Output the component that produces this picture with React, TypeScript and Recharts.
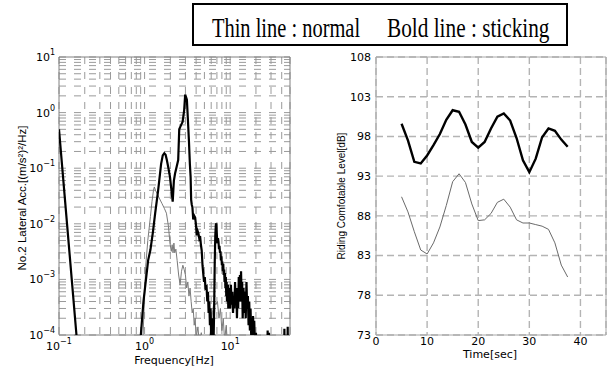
import React from "react";
import { LineChart, Line, XAxis, YAxis, CartesianGrid, ReferenceArea } from "recharts";

// left panel: lateral acceleration PSD (log-log)
const boldFreq = [
  0.1, 0.16, 0.2, 0.5, 0.85,
  0.97, 1.1, 1.17, 1.25, 1.33, 1.44, 1.56, 1.63, 1.7, 1.76,
  1.82, 1.9, 1.98, 2.06, 2.13, 2.2, 2.27, 2.38, 2.47, 2.54,
  2.62, 2.7, 2.78, 2.9, 2.98, 3.05, 3.12, 3.2, 3.3, 3.38,
  3.45, 3.5, 3.56, 3.62, 3.7, 3.8, 3.9, 4.0, 4.06, 4.15,
  4.25, 4.35, 4.45, 4.55, 4.65, 4.75, 4.84, 4.95, 5.05, 5.15,
  5.3, 5.4, 5.5, 5.6, 5.7, 5.8, 5.9, 6.0, 6.1, 6.2,
  6.3, 6.4, 6.5, 6.6, 6.7, 6.8, 6.9, 7.0, 7.1, 7.2,
  7.3, 7.4, 7.5, 7.6, 7.7, 7.8, 7.9, 8.0, 8.1, 8.2,
  8.3, 8.4, 8.5, 8.6, 8.7, 8.8, 8.9, 9.0, 9.1, 9.2,
  9.4, 9.5, 9.6, 9.8, 9.9, 10.0, 10.2, 10.4, 10.6, 10.8,
  11.0, 11.2, 11.4, 11.6, 11.8, 12.0, 12.2, 12.4, 12.6, 12.8,
  13.0, 13.2, 13.4, 13.6, 13.8, 14.0, 14.3, 14.6, 14.9, 15.2,
  15.5, 15.8, 16.1, 16.4, 16.7, 17.0, 17.3, 17.6, 17.9, 18.2,
  18.5, 18.8, 19.1, 19.5, 20.0, 20.5, 22.0, 25.0, 27.0, 27.4,
  27.8, 28.4, 28.8, 29.2, 33.0, 38.0, 42.5, 43.0, 43.5, 46.5,
  47.0, 47.5, 50.0,
];
const boldPsd = [
  0.5, 0.0001, 0.000003, 0.0000001, 0.00003,
  0.0004, 0.0022, 0.0034, 0.007, 0.0155, 0.04, 0.12, 0.17, 0.186, 0.175,
  0.14, 0.1, 0.07, 0.04, 0.025, 0.06, 0.08, 0.11, 0.14, 0.5,
  0.56, 0.62, 0.68, 1.1, 2.1, 1.9, 1.7, 0.8, 0.3, 0.12,
  0.07, 0.027, 0.022, 0.02, 0.012, 0.014, 0.013, 0.009, 0.0062, 0.0075,
  0.0068, 0.0055, 0.006, 0.0042, 0.0033, 0.0018, 0.0013, 0.0009, 0.0011, 0.0007,
  0.00074, 0.0004, 0.0006, 0.00025, 0.0004, 0.00015, 0.0003, 0.00009, 0.0002, 0.00006,
  0.00012, 0.00008, 0.0003, 0.002, 0.006, 0.0095, 0.0102, 0.006, 0.0045, 0.0055,
  0.0048, 0.0035, 0.004, 0.003, 0.0032, 0.0022, 0.0026, 0.0018, 0.0021, 0.0014,
  0.0019, 0.0012, 0.0015, 0.0009, 0.0013, 0.0007, 0.0011, 0.0005, 0.0009, 0.0004,
  0.0008, 0.0003, 0.0007, 0.0004, 0.0006, 0.0003, 0.0008, 0.00035, 0.0006, 0.00025,
  0.0005, 0.0003, 0.0009, 0.0004, 0.0007, 0.0002, 0.0006, 0.0003, 0.0011, 0.0004,
  0.0012, 0.0005, 0.0014, 0.0004, 0.0009, 0.0002, 0.0007, 0.00025, 0.0006, 0.0002,
  0.0009, 0.0003, 0.0005, 0.00015, 0.0004, 0.00012, 0.0003, 0.0001, 0.0002, 0.00008,
  0.00022, 0.00009, 0.00018, 0.00006, 0.00011, 0.00003, 0.00001, 0.00001, 0.00002, 0.00012,
  0.00003, 0.00011, 0.00002, 0.00001, 0.00001, 0.00001, 0.00002, 0.00013, 0.00002, 0.00002,
  0.00014, 0.00002, 0.00001,
];
const thinFreq = [
  0.85, 0.96, 1.03, 1.09, 1.17, 1.22, 1.27, 1.3, 1.34, 1.4,
  1.5, 1.6, 1.7, 1.8, 1.9, 1.98, 2.05, 2.1, 2.15, 2.2,
  2.25, 2.32, 2.4, 2.5, 2.6, 2.7, 2.8, 2.9, 3.0, 3.1,
  3.2, 3.3, 3.4, 3.5, 3.6, 3.7, 3.8, 3.9, 4.0, 4.2,
  4.4, 4.6, 4.8, 5.0, 5.3, 5.6, 5.9, 6.2, 6.5, 6.8,
  7.1, 7.4, 7.7, 8.0, 8.3, 8.6, 9.0, 9.4, 9.8, 10.3,
  11.0, 12.0, 14.0, 18.0, 25.0, 50.0,
];
const thinPsd = [
  0.00001, 0.0001, 0.0017, 0.005, 0.0135, 0.025, 0.04, 0.046, 0.04, 0.035,
  0.028, 0.023, 0.019, 0.0155, 0.009, 0.0045, 0.0032, 0.0042, 0.003, 0.0045,
  0.003, 0.0035, 0.0022, 0.0012, 0.0008, 0.0014, 0.0018, 0.0015, 0.0012, 0.0007,
  0.0009, 0.0005, 0.0007, 0.0004, 0.00025, 0.0003, 0.00015, 0.0002, 0.00009, 0.00014,
  0.00006, 0.00011, 0.00004, 0.00008, 0.00003, 0.00007, 0.00012, 0.00025, 0.0004, 0.00035,
  0.0004, 0.0002, 0.0003, 0.00012, 0.0002, 0.00008, 0.00015, 0.00005, 0.0001, 0.00003,
  0.00006, 0.00002, 0.00001, 0.000005, 0.000003, 0.000002,
];
const freqTicks = [
  0.1, 0.2, 0.3, 0.4, 0.5, 0.6, 0.7, 0.8, 0.9,
  1, 2, 3, 4, 5, 6, 7, 8, 9,
  10, 20, 30, 40, 50,
];
const psdTicks = [
  0.0001, 0.0002, 0.0003, 0.0004, 0.0005, 0.0006, 0.0007, 0.0008, 0.0009,
  0.001, 0.002, 0.003, 0.004, 0.005, 0.006, 0.007, 0.008, 0.009,
  0.01, 0.02, 0.03, 0.04, 0.05, 0.06, 0.07, 0.08, 0.09,
  0.1, 0.2, 0.3, 0.4, 0.5, 0.6, 0.7, 0.8, 0.9,
  1, 2, 3, 4, 5, 6, 7, 8, 9, 10,
];

// right panel: riding comfort level over time
const times = [
  5, 6.25, 7.5, 8.75, 10, 11.25, 12.5, 13.75, 15, 16.25,
  17.5, 18.75, 20, 21.25, 22.5, 23.75, 25, 26.25, 27.5, 28.75,
  30, 31.25, 32.5, 33.75, 35, 36.25, 37.5,
];
const comfortBold = [
  99.6, 97.5, 94.8, 94.6, 95.6, 96.9, 98.3, 100.1, 101.3, 101.1,
  99.5, 97.3, 96.6, 97.3, 99.0, 100.5, 100.9, 100.0, 97.8, 95.0,
  93.5, 95.2, 97.9, 99.0, 98.7, 97.6, 96.7,
];
const comfortThin = [
  90.4, 88.5, 86.0, 83.7, 83.2, 84.6, 86.6, 89.3, 92.3, 93.3,
  92.2, 89.5, 87.4, 87.5, 88.3, 89.7, 90.1, 89.1, 87.5, 87.1,
  87.1, 86.9, 86.7, 86.3, 84.6, 81.8, 80.3,
];
const timeTicks = [0, 10, 20, 30, 40];
const levelTicks = [73, 78, 83, 88, 93, 98, 103, 108];

const boldRows = boldFreq.map((f, i) => ({ f, v: boldPsd[i] }));
const thinRows = thinFreq.map((f, i) => ({ f, v: thinPsd[i] }));
const comfortRows = times.map((t, i) => ({ t, bold: comfortBold[i], thin: comfortThin[i] }));

const SANS = "DejaVu Sans, sans-serif";

const isDecade = (v: number) => Math.abs(Math.log10(v) - Math.round(Math.log10(v))) < 1e-6;
const expText = (v: number) => {
  const e = Math.round(Math.log10(v));
  return e < 0 ? "\u2212" + -e : String(e);
};

function FreqTick(props: any) {
  const { x, y, payload } = props;
  if (!isDecade(payload.value)) return <g />;
  return (
    <text x={x} y={y + 15} textAnchor="middle" fontFamily={SANS} fontSize={11} fill="#000">
      10<tspan dy={-6} fontSize={8}>{expText(payload.value)}</tspan>
    </text>
  );
}

function PsdTick(props: any) {
  const { x, y, payload } = props;
  if (!isDecade(payload.value)) return <g />;
  return (
    <text x={x - 4} y={y + 4} textAnchor="end" fontFamily={SANS} fontSize={11} fill="#000">
      10<tspan dy={-6} fontSize={8}>{expText(payload.value)}</tspan>
    </text>
  );
}

export default function App() {
  return (
    <div style={{ position: "absolute", left: 0, top: 0, width: 612, height: 369, background: "#fff", overflow: "hidden" }}>
      {/* Left: spectrum */}
      <div style={{ position: "absolute", left: 0, top: 0 }}>
        <LineChart width={300} height={369} margin={{ top: 57, right: 10, bottom: 0, left: 9 }}>
          <CartesianGrid stroke="#9a9a9a" strokeDasharray="7 8" />
          <XAxis
            dataKey="f"
            type="number"
            scale="log"
            domain={[0.1, 50]}
            allowDataOverflow
            ticks={freqTicks}
            interval={0}
            height={34}
            tickSize={0}
            tickMargin={0}
            tickLine={false}
            axisLine={false}
            tick={<FreqTick />}
          />
          <YAxis
            type="number"
            scale="log"
            domain={[0.0001, 10]}
            allowDataOverflow
            ticks={psdTicks}
            interval={0}
            width={50}
            tickSize={0}
            tickMargin={0}
            tickLine={false}
            axisLine={false}
            tick={<PsdTick />}
          />
          <ReferenceArea x1={0.1} x2={50} y1={0.0001} y2={10} fill="none" stroke="#808080" strokeWidth={1} />
          <Line data={thinRows} dataKey="v" type="linear" stroke="#7a7a7a" strokeWidth={1} dot={false} isAnimationActive={false} />
          <Line data={boldRows} dataKey="v" type="linear" stroke="#000" strokeWidth={2.2} dot={false} isAnimationActive={false} />
        </LineChart>
      </div>

      {/* Right: riding comfort level */}
      <div style={{ position: "absolute", left: 300, top: 0 }}>
        <LineChart width={312} height={369} data={comfortRows} margin={{ top: 57, right: 6, bottom: 0, left: 36 }}>
          <CartesianGrid stroke="#b4b4b4" strokeWidth={1.4} strokeDasharray="7 4" />
          <XAxis
            dataKey="t"
            type="number"
            domain={[0, 45]}
            allowDataOverflow
            ticks={timeTicks}
            interval={0}
            height={34}
            tickSize={0}
            tickMargin={2}
            tickLine={false}
            axisLine={false}
            tick={{ fontSize: 11, fill: "#000", fontFamily: SANS }}
          />
          <YAxis
            type="number"
            domain={[73, 108]}
            allowDataOverflow
            ticks={levelTicks}
            interval={0}
            width={40}
            tickSize={0}
            tickMargin={5}
            tickLine={false}
            axisLine={false}
            tick={{ fontSize: 11, fill: "#000", fontFamily: SANS }}
          />
          <ReferenceArea x1={0} x2={45} y1={73} y2={108} fill="none" stroke="#a8a8a8" strokeWidth={1} />
          <Line dataKey="thin" type="linear" stroke="#6a6a6a" strokeWidth={1} dot={false} isAnimationActive={false} />
          <Line dataKey="bold" type="linear" stroke="#000" strokeWidth={2.4} dot={false} isAnimationActive={false} />
        </LineChart>
      </div>

      {/* Titles and legend box */}
      <svg width={612} height={369} style={{ position: "absolute", left: 0, top: 0, pointerEvents: "none" }}>
        <text
          transform="translate(22,198) rotate(-90)"
          textAnchor="middle"
          dominantBaseline="central"
          fontFamily="Liberation Sans, Arial, sans-serif"
          fontSize={11.5}
          fill="#000"
        >
          No.2 Lateral Acc.[(m/s²)²/Hz]
        </text>
        <text x={174} y={364} textAnchor="middle" fontFamily={SANS} fontSize={11} fill="#000">
          Frequency[Hz]
        </text>
        <text
          transform="translate(341,196) rotate(-90)"
          textAnchor="middle"
          dominantBaseline="central"
          fontFamily="Liberation Sans, Arial, sans-serif"
          fontSize={10}
          fill="#000"
        >
          Riding Comfotable Level[dB]
        </text>
        <text x={490} y={358} textAnchor="middle" fontFamily={SANS} fontSize={11} fill="#000">
          Time[sec]
        </text>

        <rect x={193} y={4} width={374} height={41} fill="#fff" stroke="#000" strokeWidth={2} />
        {/* condensed serif, as in the original legend */}
        <g transform="translate(212,37) scale(0.73,1)">
          <text x={0} y={0} fontFamily="Liberation Serif, serif" fontSize={28} fill="#000">
            Thin line : normal
          </text>
        </g>
        <g transform="translate(387,37) scale(0.76,1)">
          <text x={0} y={0} fontFamily="Liberation Serif, serif" fontSize={28} fill="#000">
            Bold line : sticking
          </text>
        </g>
      </svg>
    </div>
  );
}
